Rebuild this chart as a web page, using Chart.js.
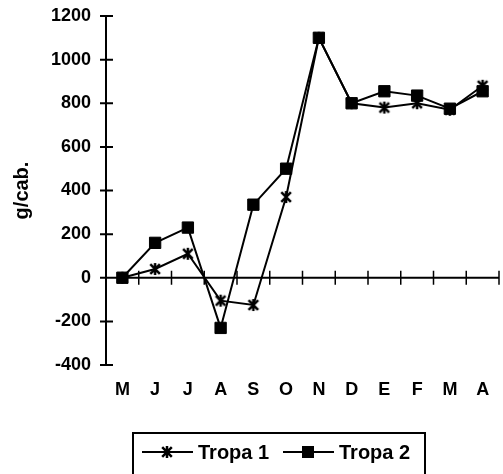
<!DOCTYPE html>
<html>
<head>
<meta charset="utf-8">
<script src="https://cdn.jsdelivr.net/npm/chart.js@4.4.0/dist/chart.umd.min.js"></script>
<style>
html, body { margin: 0; padding: 0; background: #fff; overflow: hidden; }
canvas { display: block; }
</style>
</head>
<body>
<canvas id="grafico" width="508" height="474"></canvas>
<script>
// Dados (g/cab.)
const meses = ['M', 'J', 'J', 'A', 'S', 'O', 'N', 'D', 'E', 'F', 'M', 'A'];
const tropa1 = [0, 40, 110, -105, -125, 370, 1100, 800, 780, 800, 770, 880];
const tropa2 = [0, 160, 230, -230, 335, 500, 1100, 800, 855, 835, 775, 855];
const nomes = ['Tropa 1', 'Tropa 2'];
const yMin = -400, yMax = 1200, yPasso = 200;

const fonte = 'Liberation Sans, Arial, Helvetica, sans-serif';
Chart.defaults.color = '#000';
Chart.defaults.font.family = fonte;

// Marcador tipo asterisco (X com traço vertical), como no Excel
function marcadorEstrela(tam) {
    const c = document.createElement('canvas');
    c.width = tam; c.height = tam;
    const g = c.getContext('2d');
    const m = tam / 2, r = tam / 2 - 1;
    g.strokeStyle = '#000';
    g.lineWidth = 2.5;
    g.beginPath();
    g.moveTo(m - r * 0.8, m - r * 0.8); g.lineTo(m + r * 0.8, m + r * 0.8);
    g.moveTo(m + r * 0.8, m - r * 0.8); g.lineTo(m - r * 0.8, m + r * 0.8);
    g.moveTo(m, m - r); g.lineTo(m, m + r);
    g.stroke();
    return c;
}
const estrela = marcadorEstrela(14);

// Eixos cruzando em zero, com marcas atravessando a linha
const eixos = {
    id: 'eixos',
    beforeDatasetsDraw(chart) {
        const { ctx, chartArea, scales: { x, y } } = chart;
        const y0 = y.getPixelForValue(0);
        ctx.save();
        ctx.strokeStyle = '#000';
        ctx.lineWidth = 2;
        ctx.beginPath();
        ctx.moveTo(chartArea.left, y.getPixelForValue(yMin));
        ctx.lineTo(chartArea.left, y.getPixelForValue(yMax));
        y.ticks.forEach(t => {
            const py = y.getPixelForValue(t.value);
            ctx.moveTo(chartArea.left - 6, py);
            ctx.lineTo(chartArea.left + 7, py);
        });
        ctx.moveTo(chartArea.left, y0);
        ctx.lineTo(chartArea.right, y0);
        ctx.stroke();
        ctx.lineWidth = 1.5;
        ctx.beginPath();
        for (let i = 0; i < meses.length; i++) {
            const px = i < meses.length - 1
                ? (x.getPixelForValue(i) + x.getPixelForValue(i + 1)) / 2
                : chartArea.right;
            ctx.moveTo(px, y0 - 7);
            ctx.lineTo(px, y0 + 7);
        }
        ctx.stroke();
        ctx.restore();
    }
};

// Legenda em caixa, embaixo
const legendaCaixa = {
    id: 'legendaCaixa',
    afterDraw(chart) {
        const ctx = chart.ctx;
        ctx.save();
        ctx.strokeStyle = '#000';
        ctx.lineWidth = 2;
        ctx.strokeRect(133, 433, 292, 60);
        ctx.font = 'bold 20px ' + fonte;
        ctx.textBaseline = 'middle';
        ctx.fillStyle = '#000';
        const yl = 452;
        const inicios = [142, 283];
        chart.data.datasets.forEach((ds, i) => {
            const x0 = inicios[i];
            ctx.lineWidth = 2;
            ctx.beginPath();
            ctx.moveTo(x0, yl);
            ctx.lineTo(x0 + 51, yl);
            ctx.stroke();
            const cx = x0 + 25;
            if (ds.pointStyle === 'rect') {
                ctx.fillRect(cx - 6, yl - 6, 12, 12);
            } else {
                ctx.drawImage(ds.pointStyle, cx - 7, yl - 7);
            }
            ctx.fillText(ds.label, x0 + 56, yl + 1);
        });
        ctx.restore();
    }
};

const ctx = document.getElementById('grafico').getContext('2d');
const grafico = new Chart(ctx, {
    type: 'line',
    data: {
        labels: meses,
        datasets: [{
            label: nomes[0],
            data: tropa1,
            borderColor: '#000',
            borderWidth: 2,
            pointStyle: estrela,
            pointRadius: 7,
            order: 1
        }, {
            label: nomes[1],
            data: tropa2,
            borderColor: '#000',
            borderWidth: 2,
            pointStyle: 'rect',
            pointRadius: 8,
            pointBackgroundColor: '#000',
            pointBorderColor: '#000',
            pointBorderWidth: 1,
            order: 0
        }]
    },
    options: {
        responsive: false,
        animation: false,
        layout: { padding: { top: 16, right: 2, bottom: 0, left: 0 } },
        plugins: {
            legend: { display: false },
            tooltip: { enabled: false }
        },
        scales: {
            x: {
                offset: true,
                grid: { display: false, drawTicks: false },
                border: { display: false },
                ticks: { padding: 14, font: { size: 18, weight: 'bold' } },
                afterFit(scale) { scale.height = 109; }
            },
            y: {
                min: yMin,
                max: yMax,
                grid: { display: false, drawTicks: false },
                border: { display: false },
                ticks: {
                    stepSize: yPasso,
                    padding: 15,
                    font: { size: 18, weight: 'bold' },
                    callback: v => String(v)
                },
                title: {
                    display: true,
                    text: 'g/cab.',
                    font: { size: 20, weight: 'bold' },
                    padding: { top: 10, bottom: 0 }
                },
                afterFit(scale) {
                    scale.width = 106;
                    scale.paddingTop = 0;
                    scale.paddingBottom = 0;
                }
            }
        }
    },
    plugins: [eixos, legendaCaixa]
});
</script>
</body>
</html>
